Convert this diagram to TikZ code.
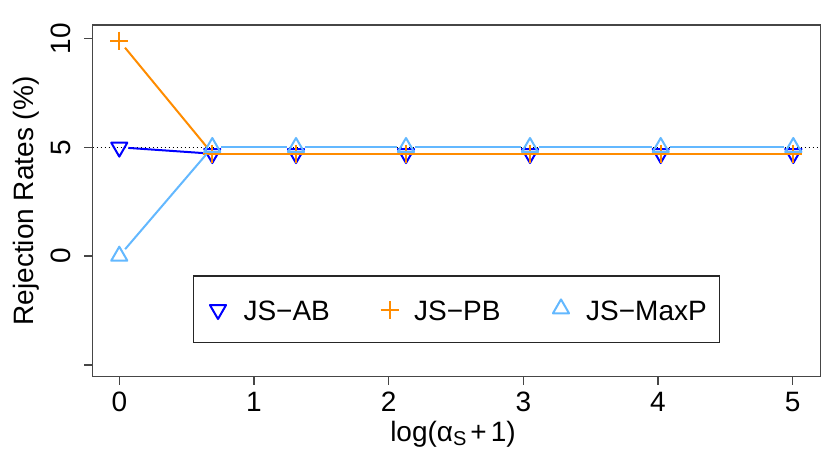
\documentclass[tikz,border=0pt]{standalone}
\usepackage{fontspec}
\setmainfont{Liberation Sans}
\definecolor{abblue}{RGB}{0,0,255}
\definecolor{pborange}{RGB}{255,140,0}
\definecolor{mpblue}{RGB}{99,184,255}
\definecolor{axgray}{RGB}{70,70,70}
\tikzset{
  series/.style={line width=2pt, shorten >=9pt, shorten <=9pt},
  ticklab/.style={font=\fontsize{28}{32}\selectfont, inner sep=0pt, anchor=base},
  leglab/.style={font=\fontsize{28}{32}\selectfont, inner sep=0pt, anchor=base west},
  axline/.style={axgray, line width=1.5pt},
  tridown/.pic={\draw[line width=2pt, line join=round] (-8.08,-4.67) -- (8.08,-4.67) -- (0,9.33) -- cycle;},
  triup/.pic={\draw[line width=2pt, line join=round] (0,-9.33) -- (8.08,4.67) -- (-8.08,4.67) -- cycle;},
  plusmk/.pic={\draw[line width=2pt] (-9,0) -- (9,0) (0,-9) -- (0,9);}
}
\begin{document}
\begin{tikzpicture}[x=1pt,y=-1pt]
\useasboundingbox (0,0) rectangle (830,461);
% dotted reference line at 5
\draw[black, line width=1pt, dash pattern=on 1pt off 3pt] (92.7,147.3) -- (820.7,147.3);
% data coordinates
\foreach \i/\x in {0/119.3,1/212.3,2/296,3/406,4/530,5/660.7,6/793.3}{
  \pgfmathsetmacro{\yab}{ifthenelse(\i==0,147.3,153.7)}
  \pgfmathsetmacro{\ypb}{ifthenelse(\i==0,40.7,153.7)}
  \pgfmathsetmacro{\ymp}{ifthenelse(\i==0,256,147.3)}
  \coordinate (ab\i) at (\x,\yab);
  \coordinate (pb\i) at (\x,\ypb);
  \coordinate (mp\i) at (\x,\ymp);
}
% JS-AB
\foreach \i [evaluate=\i as \j using int(\i+1)] in {0,...,5}{
  \draw[series, abblue] (ab\i) -- (ab\j);
}
\foreach \i in {0,...,6}{ \pic[abblue] at (ab\i) {tridown}; }
% JS-PB
\foreach \i [evaluate=\i as \j using int(\i+1)] in {0,...,5}{
  \draw[series, pborange] (pb\i) -- (pb\j);
}
\foreach \i in {0,...,6}{ \pic[pborange] at (pb\i) {plusmk}; }
% JS-MaxP
\foreach \i [evaluate=\i as \j using int(\i+1)] in {0,...,5}{
  \draw[series, mpblue] (mp\i) -- (mp\j);
}
\foreach \i in {0,...,6}{ \pic[mpblue] at (mp\i) {triup}; }
% axes box
\draw[axline] (92.7,25) rectangle (820.7,376.7);
% x ticks
\foreach \i/\x in {0/119.3,1/254,2/388.7,3/523.3,4/658,5/792.7}{
  \draw[axline] (\x,376.7) -- (\x,385);
  \node[ticklab] (xt\i) at (\x,411.3) {\i};
}
% y ticks
\foreach \v/\y/\n in {10/38.7/a,5/147.3/b,0/256/c}{
  \draw[axline] (92.7,\y) -- (84,\y);
  \node[ticklab, rotate=90] (yt\n) at (70.3,\y) {\v};
}
\draw[axline] (92.7,365) -- (84,365);
% axis labels
\node[ticklab, rotate=90] (ylab) at (33.3,201) {Rejection Rates (\%)};
\node[ticklab] (xlab) at (453,441.3) {log(α\raisebox{-4pt}{\fontsize{20}{20}\selectfont S}\hspace{4pt}+\hspace{4pt}1)};
% legend
\node[draw=black!85, line width=1.5pt, minimum width=526pt, minimum height=66.3pt, inner sep=0pt] (legend) at (456.3,309.15) {};
\coordinate (lgab) at (218,309.7);
\coordinate (lgpb) at (389.5,310);
\coordinate (lgmp) at (561,308.7);
\pic[abblue] at (lgab) {tridown};
\pic[pborange] at (lgpb) {plusmk};
\pic[mpblue] at (lgmp) {triup};
\node[leglab] (tab) at (243.3,320) {JS−AB};
\node[leglab] (tpb) at (414,320) {JS−PB};
\node[leglab] (tmp) at (586,320) {JS−MaxP};
\end{tikzpicture}
\end{document}
